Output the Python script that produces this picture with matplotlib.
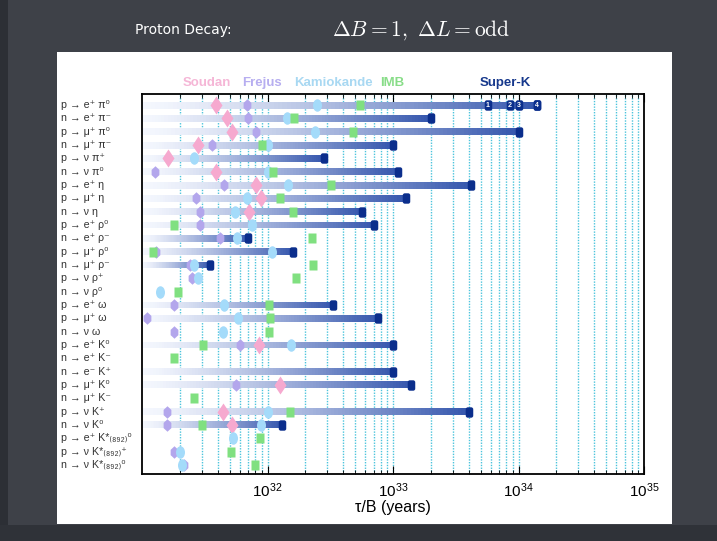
import numpy as np
import matplotlib
matplotlib.use("Agg")
import matplotlib.pyplot as plt
from matplotlib.path import Path
from matplotlib.patches import Rectangle, FancyBboxPatch
from matplotlib.transforms import Affine2D, blended_transform_factory

plt.rcParams["font.family"] = ["Liberation Sans", "DejaVu Sans"]
plt.rcParams["mathtext.fontset"] = "custom"
plt.rcParams["mathtext.rm"] = "Liberation Sans"
plt.rcParams["mathtext.it"] = "Liberation Sans:italic"
plt.rcParams["mathtext.bf"] = "Liberation Sans:bold"

nan = np.nan

# decay channels, top to bottom
decays = [
    "p → e⁺ π⁰", "n → e⁺ π⁻", "p → μ⁺ π⁰", "n → μ⁺ π⁻", "p → ν π⁺", "n → ν π⁰",
    "p → e⁺ η", "p → μ⁺ η", "n → ν η", "p → e⁺ ρ⁰", "n → e⁺ ρ⁻", "p → μ⁺ ρ⁰",
    "n → μ⁺ ρ⁻", "p → ν ρ⁺", "n → ν ρ⁰", "p → e⁺ ω", "p → μ⁺ ω", "n → ν ω",
    "p → e⁺ K⁰", "n → e⁺ K⁻", "n → e⁻ K⁺", "p → μ⁺ K⁰", "n → μ⁺ K⁻", "p → ν K⁺",
    "n → ν K⁰", "p → e⁺ K*₍₈₉₂₎⁰", "p → ν K*₍₈₉₂₎⁺", "n → ν K*₍₈₉₂₎⁰",
]

# lifetime limits tau/B in years
soudan = [3.9e31, 4.8e31, 5.2e31, 2.8e31, 1.6e31, 3.9e31, 8.1e31, 8.8e31, 7.1e31,
          nan, nan, nan, nan, nan, nan, nan, nan, nan, 8.5e31, nan, nan, 1.26e32,
          nan, 4.4e31, 5.2e31, nan, nan, nan]
frejus = [6.9e31, 7.0e31, 8.1e31, 3.6e31, nan, 1.26e31, 4.5e31, 2.7e31, 2.9e31,
          2.9e31, 4.2e31, 1.3e31, 2.4e31, 2.5e31, nan, 1.8e31, 1.1e31, 1.8e31,
          6.0e31, nan, nan, 5.6e31, nan, 1.57e31, 1.57e31, nan, 1.8e31, 2.15e31]
kamiokande = [2.46e32, 1.43e32, 2.4e32, 1.0e32, 2.6e31, 1.0e32, 1.47e32, 6.9e31,
              5.5e31, 7.5e31, 5.7e31, 1.08e32, 2.6e31, 2.8e31, 1.4e31, 4.5e31,
              5.8e31, 4.4e31, 1.55e32, nan, nan, nan, nan, 1.0e32, 8.8e31,
              5.3e31, 2.0e31, 2.1e31]
imb = [5.5e32, 1.63e32, 4.8e32, 9.1e31, nan, 1.1e32, 3.2e32, 1.26e32, 1.6e32,
       1.8e31, 2.25e32, 1.23e31, 2.3e32, 1.7e32, 1.94e31, 1.03e32, 1.04e32,
       1.03e32, 3.05e31, 1.8e31, nan, nan, 2.6e31, 1.5e32, 3.0e31, 8.7e31,
       5.1e31, 7.9e31]
superk = [1.4e34, 2.0e33, 1.0e34, 1.0e33, 2.8e32, 1.1e33, 4.2e33, 1.26e33, 5.7e32,
          7.1e32, 7.0e31, 1.6e32, 3.5e31, nan, nan, 3.3e32, 7.6e32, nan, 1.0e33,
          nan, 1.0e33, 1.4e33, nan, 4.0e33, 1.3e32, nan, nan, nan]

# Super-K p -> e+ pi0 limit over successive exposures
sk_stages = [5.7e33, 8.5e33, 1.0e34, 1.4e34]
sk_stage_labels = ["1", "2", "3", "4"]

experiments = ["Soudan", "Frejus", "Kamiokande", "IMB", "Super-K"]
exp_colors = ["#f6a9cf", "#b3a6ec", "#a4dbfa", "#80e080", "#0b2e8c"]
legend_colors = ["#f5b6d6", "#b7aef0", "#a8d8f2", "#88dd88", "#16388c"]

# marker shapes
hexa = Path([(0, 1), (0.62, 0.42), (0.62, -0.42), (0, -1), (-0.62, -0.42),
             (-0.62, 0.42), (0, 1)])
ellipse = Path.unit_circle().transformed(Affine2D().scale(0.72, 1.0))
box = Path.unit_rectangle().transformed(Affine2D().translate(-0.5, -0.5).scale(0.78, 1.0))
cap = FancyBboxPatch((-0.36, -0.5), 0.72, 1.0,
                     boxstyle="round,pad=0,rounding_size=0.2").get_path()

fig = plt.figure(figsize=(7.17, 5.41), dpi=100, facecolor="#3e4148")
fig.add_artist(Rectangle((0, 0), 8 / 717, 1, transform=fig.transFigure,
                         facecolor="#2c2f35", edgecolor="none", zorder=-2))
fig.add_artist(Rectangle((0, 0), 1, 16 / 541, transform=fig.transFigure,
                         facecolor="#2f3238", edgecolor="none", zorder=-2))
fig.add_artist(Rectangle((57 / 717, 1 - 524 / 541), 615 / 717, 472 / 541,
                         transform=fig.transFigure, facecolor="white",
                         edgecolor="none", zorder=-1))

ax = fig.add_axes([142 / 717, 1 - 474 / 541, 502 / 717, 380 / 541])
n = len(decays)
y = np.arange(n)
ax.set_xscale("log")
ax.set_xlim(1e31, 1e35)
ax.set_ylim(n - 1 + 0.68, -0.83)

# dotted grid at every decade subdivision
grid_x = [k * 10.0 ** p for p in range(31, 35) for k in range(1, 10)][1:]
for gx in grid_x:
    ax.axvline(gx, color="#4cc4dc", lw=1.0, ls=(0, (1, 1)), zorder=1)

# gradient bars up to the Super-K limit
c0 = np.array([0.96, 0.97, 0.995])
c1 = np.array([0.21, 0.34, 0.68])
nseg = 90
for i, lim in enumerate(superk):
    if np.isnan(lim):
        continue
    edges = np.logspace(31, np.log10(lim), nseg + 1)
    t = np.linspace(0, 1, nseg) ** 1.3
    cols = c0 + (c1 - c0) * t[:, None]
    ax.barh(np.full(nseg, i), np.diff(edges) * 1.02, left=edges[:-1], height=0.52,
            color=cols, linewidth=0, antialiased=False, zorder=2)

ms = dict(linestyle="none", zorder=4)
ax.plot(soudan, y, marker="d", markersize=9.5, color=exp_colors[0], mec="none", **ms)
ax.plot(frejus, y, marker=hexa, markersize=9, color=exp_colors[1], mec="none", **ms)
ax.plot(kamiokande, y, marker=ellipse, markersize=9, color=exp_colors[2], mec="none", **ms)
ax.plot(imb, y, marker=box, markersize=7.5, color=exp_colors[3], mec="none", **ms)
ax.plot(superk, y, marker=cap, markersize=7.5, color=exp_colors[4], mec="none",
        linestyle="none", zorder=5)
ax.plot(sk_stages, [0] * len(sk_stages), marker=cap, markersize=7.5,
        color=exp_colors[4], mec="none", linestyle="none", zorder=5)
for xs, lab in zip(sk_stages, sk_stage_labels):
    ax.text(xs, 0.05, lab, color="white", fontsize=5, fontweight="bold",
            ha="center", va="center", zorder=6)

ax.set_yticks([])
ax.set_xticks([1e32, 1e33, 1e34, 1e35])
ax.tick_params(axis="x", which="both", direction="in", top=True, bottom=True,
               labelsize=11, pad=5)
ax.tick_params(axis="x", which="major", length=6, width=0.8)
ax.tick_params(axis="x", which="minor", length=3, width=0.6)
for sp in ax.spines.values():
    sp.set_linewidth(1.3)
    sp.set_zorder(7)
ax.set_xlabel("τ/B (years)", fontsize=11.5, labelpad=0)

# channel labels on the left
label_tr = blended_transform_factory(fig.transFigure, ax.transData)
for i, lab in enumerate(decays):
    ax.text(61 / 717, i, lab, transform=label_tr, fontsize=7.7,
            color="#333333", ha="left", va="center")

# experiment key above the plot
key_x = [207, 262, 333, 392, 505]
for name, cx, col in zip(experiments, key_x, legend_colors):
    fig.text(cx / 717, 1 - 83 / 541, name, color=col, fontsize=9.5,
             fontweight="bold", ha="center", va="center")

fig.text(183 / 717, 1 - 30 / 541, "Proton Decay:", color="white", fontsize=10,
         family="DejaVu Sans", ha="center", va="center")
fig.text(421 / 717, 1 - 30 / 541, r"$\Delta B = 1,\ \Delta L = \mathrm{odd}$",
         color="white", fontsize=15.5, ha="center", va="center", math_fontfamily="cm")

fig.savefig("out.png", dpi=100, facecolor=fig.get_facecolor())
